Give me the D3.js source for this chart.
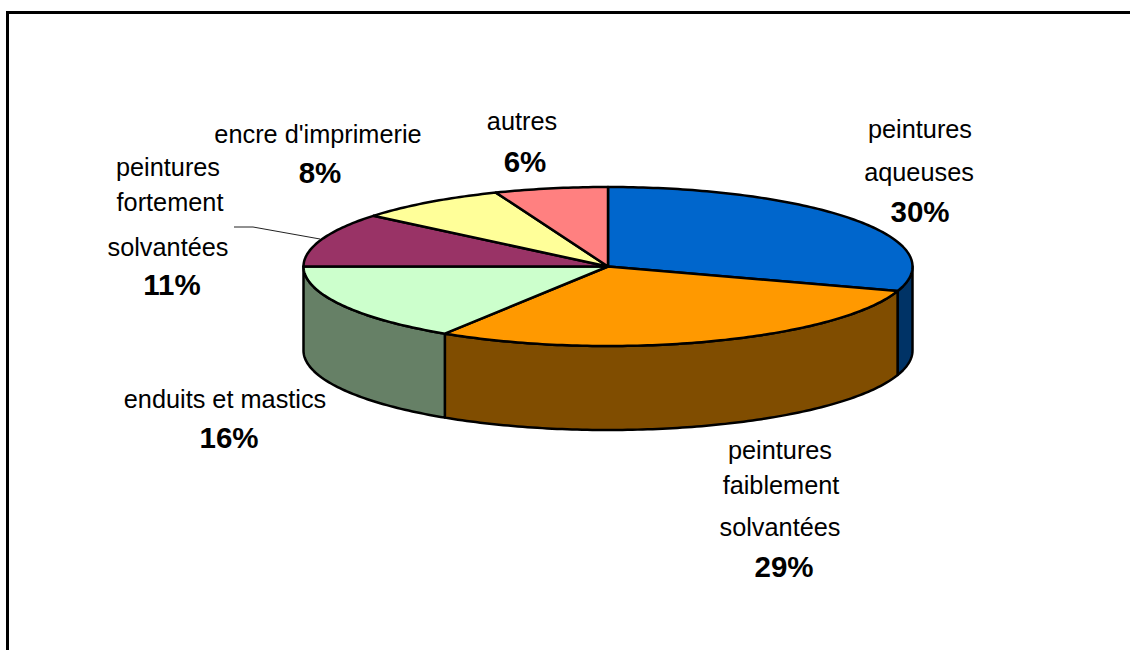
<!DOCTYPE html>
<html>
<head>
<meta charset="utf-8">
<script src="https://cdn.jsdelivr.net/npm/d3@7"></script>
<style>
  html, body { margin: 0; padding: 0; background: white; overflow: hidden; }
  text { font-family: "Liberation Sans", Arial, sans-serif; fill: black; }
</style>
</head>
<body>
<div id="canvas"></div>
<script>
"use strict"

/* Chart data */
let categories = ["peintures aqueuses", "peintures faiblement solvantées", "enduits et mastics",
                  "peintures fortement solvantées", "encre d'imprimerie", "autres"];
let percents = [30, 29, 16, 11, 8, 6];
let topColors = ["#0066CC", "#FF9900", "#CCFFCC", "#993366", "#FFFF99", "#FF8080"];
let sideColors = ["#003366", "#804D00", "#668066", "#4D1A33", "#808050", "#804040"];

/* Label lines, one list per slice */
let labelLines = [["peintures", "aqueuses"],
                  ["peintures", "faiblement", "solvantées"],
                  ["enduits et mastics"],
                  ["peintures", "fortement", "solvantées"],
                  ["encre d'imprimerie"],
                  ["autres"]];

/* Layout of the labels: x of the text centre and baseline of each line, percent last */
let labelX = [[920, 919, 920], [780, 781, 780, 784], [225, 229], [168, 170, 168, 172], [318, 320], [522, 525]];
let labelY = [[138, 181, 222], [459, 494, 536, 577], [408, 448], [176, 211, 256, 295], [143, 183], [130, 172]];

/* Configuration variables: drawing */
let svgWidth = 1130;
let svgHeight = 650;
let cx = 608;
let cy = 266.5;
let rx = 304.5;
let ry = 79.5;
let depth = 84;
let outline = 2.5;

let svg = d3.select("#canvas")
    .append("svg")
    .attr("width", svgWidth)
    .attr("height", svgHeight)
    .style("display", "block");

let line = d3.line();

/* Frame: only the left and top sides are inside the picture */
svg.append("path")
    .attr("d", line([[7.5, svgHeight], [7.5, 12.5], [svgWidth, 12.5]]))
    .attr("fill", "none")
    .attr("stroke", "black")
    .attr("stroke-width", 3);

let pie = d3.pie().sort(null).value(d => d)(percents);

/* Angle is clockwise from the top of the ellipse */
let xAt = a => cx + rx * Math.sin(a);
let yAt = a => cy - ry * Math.cos(a);

function rimPoints(a0, a1, dy) {
    let n = Math.max(2, Math.ceil((a1 - a0) * 60));
    return d3.range(n + 1).map(i => {
        let a = a0 + (a1 - a0) * i / n;
        return [xAt(a), yAt(a) + dy];
    });
}

/* Side walls: only the part in front of the ellipse shows (90 to 270 degrees) */
let walls = pie
    .map((d, i) => ({
        a0: Math.max(d.startAngle, Math.PI / 2),
        a1: Math.min(d.endAngle, Math.PI * 1.5),
        i: i
    }))
    .filter(d => d.a1 > d.a0);

svg.selectAll("path.wall")
    .data(walls)
    .join("path")
    .attr("class", "wall")
    .attr("d", d => line(rimPoints(d.a0, d.a1, 0)
        .concat(rimPoints(d.a0, d.a1, depth).reverse())) + "Z")
    .attr("fill", d => sideColors[d.i])
    .attr("stroke", "black")
    .attr("stroke-width", outline)
    .attr("stroke-linejoin", "round");

/* Top face */
svg.selectAll("path.slice")
    .data(pie)
    .join("path")
    .attr("class", "slice")
    .attr("d", d => line([[cx, cy]].concat(rimPoints(d.startAngle, d.endAngle, 0))) + "Z")
    .attr("fill", (d, i) => topColors[i])
    .attr("stroke", "black")
    .attr("stroke-width", outline)
    .attr("stroke-linejoin", "round");

/* Leader line for the slice with the label pulled away */
svg.append("path")
    .attr("d", line([[234, 227], [253, 227], [320, 239]]))
    .attr("fill", "none")
    .attr("stroke", "#222")
    .attr("stroke-width", 1);

/* Labels */
labelLines.forEach(function (lines, i) {
    lines.forEach(function (t, j) {
        svg.append("text")
            .attr("x", labelX[i][j])
            .attr("y", labelY[i][j])
            .attr("text-anchor", "middle")
            .style("font-size", "25.3px")
            .text(t);
    });
    svg.append("text")
        .attr("x", labelX[i][lines.length])
        .attr("y", labelY[i][lines.length])
        .attr("text-anchor", "middle")
        .style("font-size", "29.5px")
        .style("font-weight", "bold")
        .text(percents[i] + "%");
});
</script>
</body>
</html>
